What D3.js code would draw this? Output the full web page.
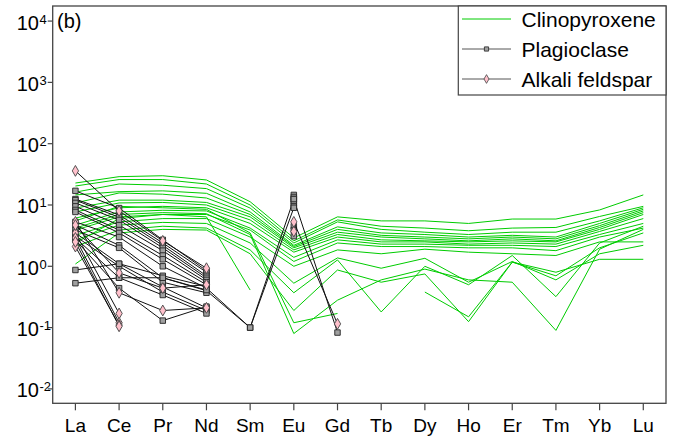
<!DOCTYPE html>
<html>
<head>
<meta charset="utf-8">
<script src="https://cdn.jsdelivr.net/npm/d3@7/dist/d3.min.js"></script>
<style>
  html, body { margin: 0; padding: 0; background: #fff; }
  svg { display: block; font-family: "Liberation Sans", Arial, sans-serif; }
</style>
</head>
<body>
<svg id="chart" width="678" height="441"></svg>
<script>
// REE order along the x axis
const elements = ["La", "Ce", "Pr", "Nd", "Sm", "Eu", "Gd", "Tb", "Dy", "Ho", "Er", "Tm", "Yb", "Lu"];

// Y tick exponents (powers of ten)
const yTickExps = [-2, -1, 0, 1, 2, 3, 4];

// Clinopyroxene: chondrite-normalised REE, one array per analysis (null = not determined)
const clinopyroxene = [
  [22.8, 29, 30, 25.6, 11.3, 2.9, 6.4, 5.5, 5.5, 5.0, 5.9, 5.9, 8.3, 14.6],
  [20.4, 26, 26, 22, 10, 2.6, 5.7, 4.5, 4.2, 3.8, 4.2, 4.3, 6.5, 9.5],
  [16.2, 22, 21, 18.5, 8.9, 2.4, 5.3, 4.0, 3.6, 3.3, 3.6, 3.6, 5.5, 9.0],
  [14.6, 16.5, 17, 15.5, 7.7, 2.2, 4.4, 3.5, 3.3, 3.0, 3.2, 3.0, 5.0, 8.5],
  [10.8, 15.7, 15, 13, 7.0, 2.1, 4.0, 3.2, 3.0, 2.8, 3.0, 2.8, 4.6, 8.0],
  [8.9, 12, 12, 11, 6.4, 2.0, 3.6, 3.0, 2.8, 2.6, 2.8, 2.6, 4.3, 7.5],
  [7.7, 10.8, 11, 10, 5.7, 1.85, 3.3, 2.7, 2.6, 2.5, 2.6, 2.5, 4.0, 7.0],
  [6.1, 9, 9.5, 9, 5.0, 1.7, 3.0, 2.5, 2.5, 2.3, 2.4, 2.3, 3.7, 6.0],
  [4.7, 7.7, 8.2, 8, 4.2, 1.4, 2.7, 2.3, 2.3, 2.2, 2.2, 2.1, 3.3, 5.0],
  [3.9, 6.4, 7, 7, 3.9, 1.2, 2.4, 2.1, 2.1, 2.0, 2.0, 1.8, 3.0, 4.2],
  [3.2, 5.3, 6, 6, 3.0, 1.0, 1.85, 1.6, 1.9, 1.7, 1.6, 1.5, 2.5, 2.5],
  [2.7, 4.7, 5.2, 5, 2.4, 0.53, 1.37, 0.93, 1.35, 0.55, 1.2, 0.6, 1.6, 2.2],
  [2.1, 3.9, 4.5, 4.2, 1.85, 0.37, 1.27, 0.18, 1.0, 0.5, 1.5, 0.32, 2.4, 4.5],
  [1.09, 3.5, 4, 3.9, 1.6, 0.19, 0.87, 0.55, 0.75, 0.125, 1.17, 0.8, 1.3, 1.3],
  [2.4, 6, 7, 6.4, 0.41, null, null, null, null, null, null, null, null, null],
  [5.5, 9.5, 9, 8.5, 3.5, 0.12, 0.17, null, null, null, null, null, null, null],
  [4.2, 7, 7.5, 7.2, 3.3, 0.08, 0.28, 0.6, 0.9, 0.6, 0.55, 0.09, 1.9, 4.0],
  [null, null, null, null, null, null, null, null, 0.38, 0.15, 1.17, 0.7, 2.0, 3.5]
];

// Plagioclase analyses (La..Gd only)
const plagioclase = [
  [17, 8.9, 2.7, 0.85, null, 14.6, null],
  [12.5, 6.9, 2.4, 0.8, null, 13.5, null],
  [12, 6.3, 2.2, 0.7, null, 12.5, null],
  [10.8, 5.7, 2.0, 0.65, null, 11.5, null],
  [9.5, 4.7, 1.8, 0.6, null, 10.5, null],
  [8.3, 3.9, 1.5, 0.55, null, 9.5, null],
  [7.7, 3.5, 1.3, 0.5, null, null, null],
  [5.3, 3.0, 1.0, 0.44, 0.1, 12.5, 0.083],
  [4.7, 2.2, 0.65, 0.4, 0.1, 9.0, null],
  [3.9, 2.0, 0.55, 0.37, null, 4.5, null],
  [3.5, 1.1, 0.46, 0.21, null, 3.9, null],
  [3.1, 1.0, 0.38, 0.19, null, 3.1, null],
  [2.9, 0.65, 0.34, 0.17, null, null, null],
  [2.7, 0.44, 0.13, 0.22, null, null, null],
  [0.87, 1.1, 0.7, 0.47, null, null, null],
  [0.53, 0.65, 0.65, 0.41, null, null, null]
];

// Alkali feldspar analyses (La..Gd only)
const alkaliFeldspar = [
  [36, 8, 2.6, 0.93, null, 3.7, null],
  [3.5, 0.17, null, null, null, 5.3, 0.115],
  [2.9, 0.12, null, null, null, null, null],
  [2.1, 0.11, null, null, null, null, null],
  [2.5, 0.105, null, null, null, null, null],
  [5.3, 0.37, 0.19, 0.21, null, null, null],
  [4.7, 0.78, 0.44, 0.5, null, null, null]
];

const legendLabels = ["Clinopyroxene", "Plagioclase", "Alkali feldspar"];
const panelLabel = "(b)";

const plot = { left: 52.7, right: 666, top: 6, bottom: 403.3 };
const cpxColor = "#00cc00";

const svg = d3.select("#chart");

const x = d3.scalePoint()
  .domain(elements)
  .range([plot.left, plot.right])
  .padding(0.52);

const y = d3.scaleLog()
  .domain([Math.pow(10, -2.235), Math.pow(10, 4.246)])
  .range([plot.bottom, plot.top]);

// Line generator that breaks on missing values
const lineGen = d3.line()
  .defined(d => d.v != null)
  .x(d => x(d.el))
  .y(d => y(d.v));

const toPoints = row => row.map((v, i) => ({ el: elements[i], v }));

// Clinopyroxene patterns
svg.append("g")
  .selectAll("path")
  .data(clinopyroxene)
  .join("path")
  .attr("d", r => lineGen(toPoints(r)))
  .attr("fill", "none")
  .attr("stroke", cpxColor)
  .attr("stroke-width", 1);

// Plagioclase patterns
const plagG = svg.append("g");
plagG.selectAll("path")
  .data(plagioclase)
  .join("path")
  .attr("d", r => lineGen(toPoints(r)))
  .attr("fill", "none")
  .attr("stroke", "#111")
  .attr("stroke-width", 1);

// Alkali feldspar patterns
const afsG = svg.append("g");
afsG.selectAll("path")
  .data(alkaliFeldspar)
  .join("path")
  .attr("d", r => lineGen(toPoints(r)))
  .attr("fill", "none")
  .attr("stroke", "#111")
  .attr("stroke-width", 1);

const square = d3.symbol().type(d3.symbolSquare).size(30);
const diamond = d3.symbol().type(d3.symbolDiamond).size(34);

// Plagioclase markers
plagG.selectAll("path.m")
  .data(plagioclase.flatMap(r => toPoints(r).filter(d => d.v != null)))
  .join("path")
  .attr("class", "m")
  .attr("d", square)
  .attr("transform", d => `translate(${x(d.el)},${y(d.v)})`)
  .attr("fill", "#a0a0a0")
  .attr("stroke", "#222")
  .attr("stroke-width", 0.9);

// Alkali feldspar markers
afsG.selectAll("path.m")
  .data(alkaliFeldspar.flatMap(r => toPoints(r).filter(d => d.v != null)))
  .join("path")
  .attr("class", "m")
  .attr("d", diamond)
  .attr("transform", d => `translate(${x(d.el)},${y(d.v)})`)
  .attr("fill", "#ffc0cb")
  .attr("stroke", "#444")
  .attr("stroke-width", 0.9);

// Frame
svg.append("rect")
  .attr("x", plot.left).attr("y", plot.top)
  .attr("width", plot.right - plot.left)
  .attr("height", plot.bottom - plot.top)
  .attr("fill", "none")
  .attr("stroke", "#444")
  .attr("stroke-width", 1.3);

// Y axis ticks and labels (10^n)
const yAx = svg.append("g");
yTickExps.forEach(e => {
  const ty = y(Math.pow(10, e));
  yAx.append("line")
    .attr("x1", plot.left - 5).attr("x2", plot.left)
    .attr("y1", ty).attr("y2", ty)
    .attr("stroke", "#444").attr("stroke-width", 1.2);
  yAx.append("text")
    .attr("x", 39).attr("y", ty + 8.5)
    .attr("text-anchor", "end")
    .attr("font-size", 20)
    .attr("fill", "#000")
    .text("10");
  yAx.append("text")
    .attr("x", 39.5).attr("y", ty + 2.5)
    .attr("font-size", 13)
    .attr("fill", "#000")
    .text(e < 0 ? "-" + Math.abs(e) : String(e));
});

// X axis ticks and labels
const xAx = svg.append("g");
elements.forEach(el => {
  xAx.append("line")
    .attr("x1", x(el)).attr("x2", x(el))
    .attr("y1", plot.bottom).attr("y2", plot.bottom + 7)
    .attr("stroke", "#444").attr("stroke-width", 1.2);
  xAx.append("text")
    .attr("x", x(el)).attr("y", 432)
    .attr("text-anchor", "middle")
    .attr("font-size", 19)
    .attr("fill", "#000")
    .text(el);
});

// Panel label
svg.append("text")
  .attr("x", 57).attr("y", 27.5)
  .attr("font-size", 20)
  .text(panelLabel);

// Legend
const lg = svg.append("g");
lg.append("rect")
  .attr("x", 458.3).attr("y", plot.top)
  .attr("width", plot.right - 458.3).attr("height", 89)
  .attr("fill", "#fff")
  .attr("stroke", "#444")
  .attr("stroke-width", 1.2);
const rowY = [19, 49, 79];
legendLabels.forEach((lab, i) => {
  const ly = rowY[i];
  lg.append("line")
    .attr("x1", 462).attr("x2", 511).attr("y1", ly).attr("y2", ly)
    .attr("stroke", i === 0 ? cpxColor : "#555")
    .attr("stroke-width", 1);
  if (i === 1) {
    lg.append("path").attr("d", d3.symbol().type(d3.symbolSquare).size(18)())
      .attr("transform", `translate(486.5,${ly})`)
      .attr("fill", "#a0a0a0").attr("stroke", "#222").attr("stroke-width", 0.8);
  }
  if (i === 2) {
    lg.append("path").attr("d", d3.symbol().type(d3.symbolDiamond).size(22)())
      .attr("transform", `translate(486.5,${ly})`)
      .attr("fill", "#ffc0cb").attr("stroke", "#444").attr("stroke-width", 0.8);
  }
  lg.append("text")
    .attr("x", 521.5).attr("y", ly + 7.5)
    .attr("font-size", 21)
    .attr("fill", "#000")
    .text(lab);
});
</script>
</body>
</html>
